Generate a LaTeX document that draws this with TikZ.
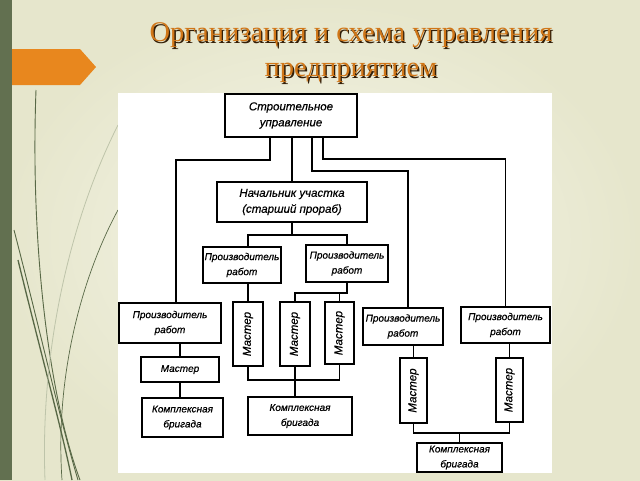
\documentclass[tikz,border=0pt]{standalone}
\usepackage{fontspec}
\usepackage{graphicx}
\setmainfont{Liberation Serif}
\newfontfamily\diagfont{Liberation Sans}[FakeBold=0.5]
\definecolor{bgin}{RGB}{246,246,234}
\definecolor{bgout}{RGB}{230,230,204}
\definecolor{barcol}{RGB}{98,112,80}
\definecolor{arrowcol}{RGB}{232,135,30}
\definecolor{titlecol}{RGB}{208,118,24}
\definecolor{shadowcol}{RGB}{50,30,8}
\definecolor{decocol}{RGB}{88,104,70}
\definecolor{decolight}{RGB}{190,196,170}
\begin{document}
\begin{tikzpicture}[x=1pt, y=-1pt,
    orgbox/.style ={draw, line width=1.8pt, fill=white, align=center, inner sep=0pt,
      font=\diagfont\itshape\fontsize{10}{15}\selectfont},
    headtext/.style ={font=\diagfont\itshape\fontsize{11.5}{16}\selectfont},
    mastertext/.style ={font=\diagfont\itshape\fontsize{11.5}{14}\selectfont},
    orgline/.style ={line width=1.3pt},
    deco/.style ={decocol, line width=0.9pt}]
   \useasboundingbox (0,0) rectangle (640,480);
   % slide background
   \shade[inner color=bgin, outer color=bgout] (0,0) rectangle (640,480);
   \fill[barcol] (0,0) rectangle (12,480);
   \fill[arrowcol] (12,49) -- (80,49) -- (96,67) -- (80,85) -- (12,85) -- cycle;
   \draw[deco] (36,90) .. controls (30,250) and (50,400) .. (80,480);
   \draw[deco] (14,230) .. controls (40,330) and (60,420) .. (78,480);
   \draw[deco, line width=1.3pt] (18,260) .. controls (40,350) and (62,430) .. (72,480);
   \draw[decolight, line width=0.8pt] (118,125) .. controls (70,220) and (40,350) .. (45,480);
   \draw[deco, line width=0.7pt] (118,210) .. controls (80,280) and (55,380) .. (62,480);
   \fill[white] (118,93) rectangle (552,473);

   % title
   \node[shadowcol, font=\fontsize{28.5}{35}\selectfont, align=center] (tshadow) at (352.3,54.3)
     {Организация и схема управления\\предприятием};
   \node[titlecol, font=\fontsize{28.5}{35}\selectfont, align=center] (title) at (351,53)
     {Организация и схема управления\\предприятием};

   % boxes
   \node[orgbox, headtext, minimum width=132, minimum height=43] (su)  at (291,115.5) {Строительное\\управление};
   \node[orgbox, headtext, minimum width=150, minimum height=40] (nach) at (292,202) {Начальник участка\\(старший прораб)};
   \node[orgbox, minimum width=78, minimum height=36] (pr1) at (242,265) {Производитель\\работ};
   \node[orgbox, minimum width=82, minimum height=37] (pr2) at (347,263.5) {Производитель\\работ};
   \node[orgbox, minimum width=102, minimum height=40] (pl) at (170,323) {Производитель\\работ};
   \node[orgbox, minimum width=78, minimum height=25] (ml) at (180,369.5) {Мастер};
   \node[orgbox, minimum width=81, minimum height=39] (bl) at (182.5,417.5) {Комплексная\\бригада};
   \node[orgbox, mastertext, minimum width=30, minimum height=64] (m1) at (248,334) {\rotatebox{90}{Мастер}};
   \node[orgbox, mastertext, minimum width=30, minimum height=64] (m2) at (295,334) {\rotatebox{90}{Мастер}};
   \node[orgbox, mastertext, minimum width=29, minimum height=62] (m3) at (339.5,333) {\rotatebox{90}{Мастер}};
   \node[orgbox, minimum width=104, minimum height=38] (bm) at (300,416) {Комплексная\\бригада};
   \node[orgbox, minimum width=80, minimum height=37] (pr3) at (403,326.5) {Производитель\\работ};
   \node[orgbox, minimum width=89, minimum height=36] (pr4) at (505.5,325) {Производитель\\работ};
   \node[orgbox, mastertext, minimum width=27, minimum height=65] (m4) at (413.5,390.5) {\rotatebox{90}{Мастер}};
   \node[orgbox, mastertext, minimum width=27, minimum height=64] (m5) at (509.5,390) {\rotatebox{90}{Мастер}};
   \node[orgbox, minimum width=85, minimum height=29] (br) at (459.5,457.5) {Комплексная\\бригада};

   % connections
   \draw[orgline] ([xshift=-21pt]su.south) -- ++(0,22) -| ([xshift=6pt]pl.north);
   \draw[orgline] (nach.north) -- (nach.north |- su.south);
   \draw[orgline] ([xshift=21pt]su.south) -- ++(0,33) -| ([xshift=5pt]pr3.north);
   \draw[orgline] ([xshift=32pt]su.south) -- ++(0,21) -| (pr4.north);
   \draw[orgline] (nach.south) -- ++(0,12) coordinate (n1);
   \draw[orgline] ([xshift=6pt]pr1.north) |- (n1) -| (pr2.north);
   \draw[orgline] (m1.north |- pr1.south) -- (m1.north);
   \draw[orgline] (pr2.south) -- ++(0,10) coordinate (p2) -| (m2.north);
   \draw[orgline] (m3.north) -- (m3.north |- p2);
   \draw[orgline] (m1.south) -- ++(0,13) -| (m3.south);
   \draw[orgline] (m2.south) -- (m2.south |- bm.north);
   \draw[orgline] (pl.south -| ml.north) -- (ml.north);
   \draw[orgline] (ml.south) -- (ml.south |- bl.north);
   \draw[orgline] (m4.north |- pr3.south) -- (m4.north);
   \draw[orgline] (m5.north |- pr4.south) -- (m5.north);
   \draw[orgline] (m4.south) -- ++(0,9) coordinate (b2) -| (m5.south);
   \draw[orgline] (br.north) -- (br.north |- b2);
 \end{tikzpicture}
\end{document}
